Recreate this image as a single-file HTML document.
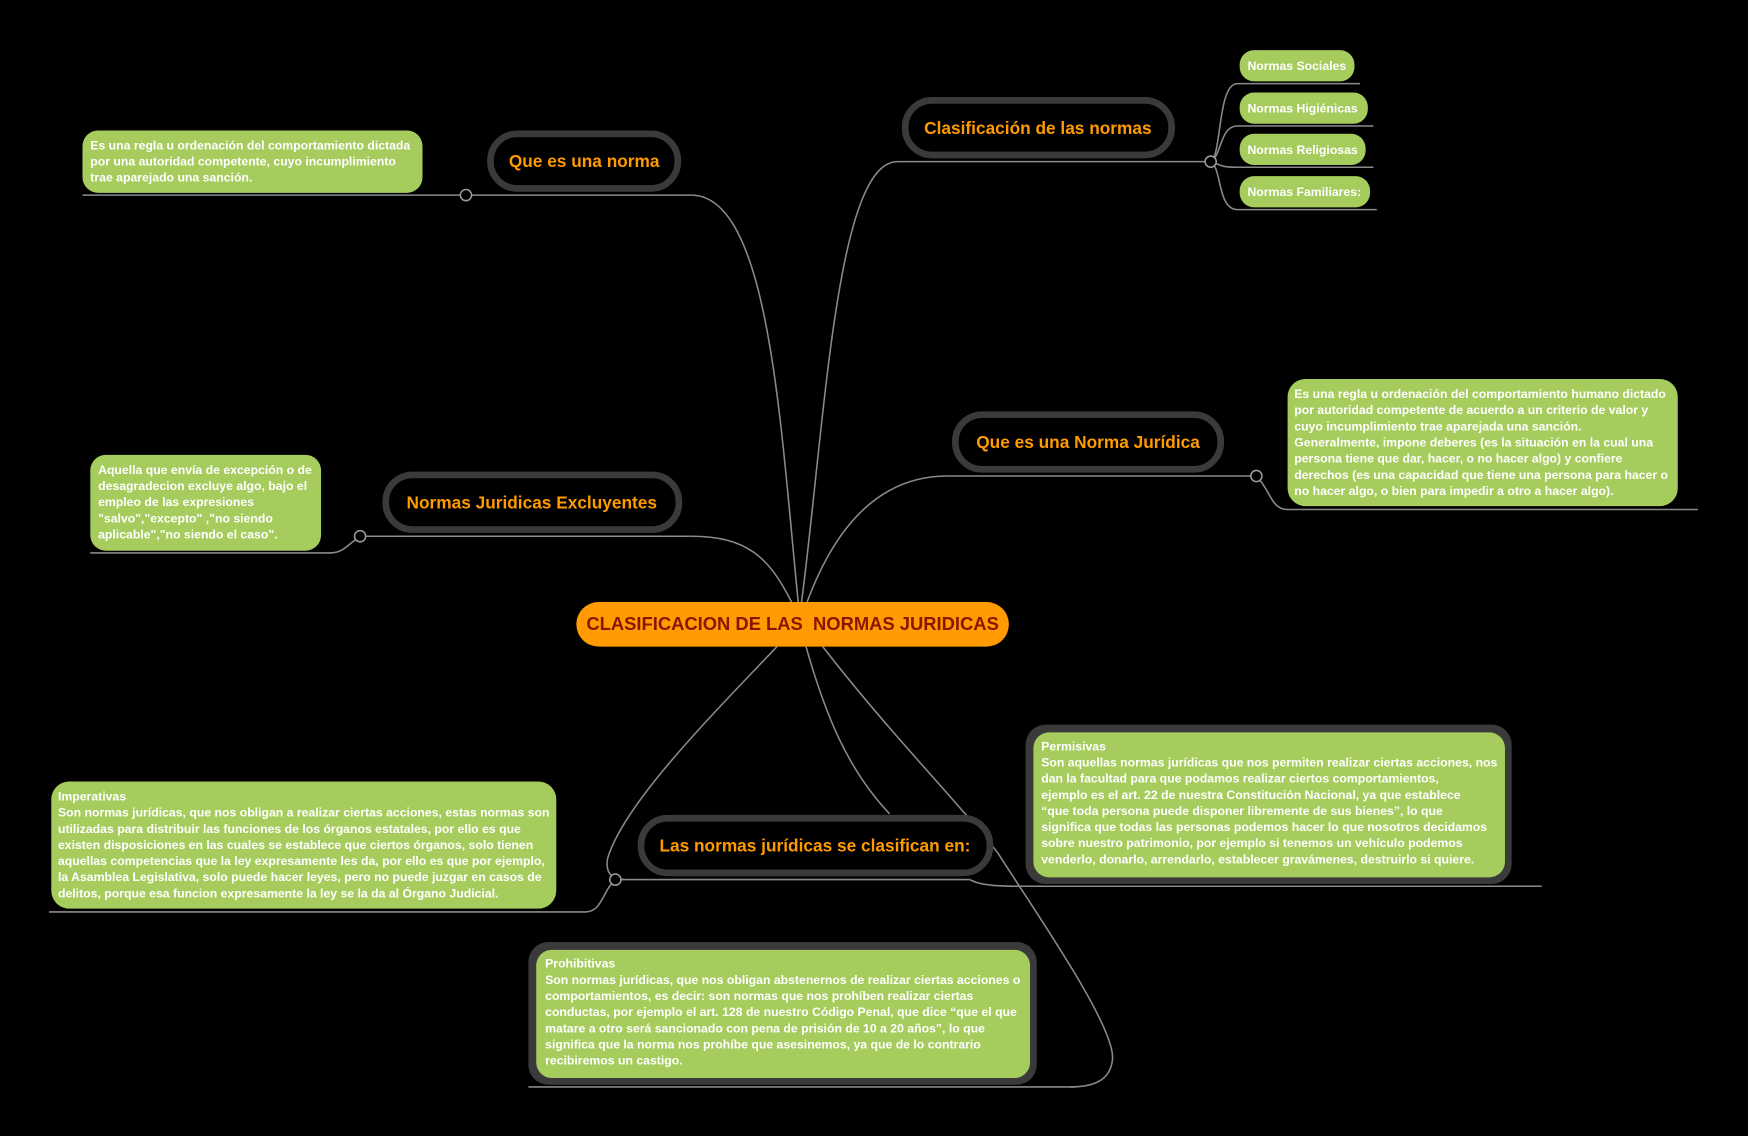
<!DOCTYPE html>
<html><head><meta charset="utf-8"><style>
html,body{margin:0;padding:0;background:#000;}
svg{display:block}
.t{font-family:"Liberation Sans",sans-serif;font-weight:bold;fill:#ff9a00;font-size:15.5px}
.l{font-family:"Liberation Sans",sans-serif;font-weight:bold;fill:#fff;font-size:11px}
.ln{fill:none;stroke:#8a8a8a;stroke-width:1.4}
.u{fill:none;stroke:#8a8a8a;stroke-width:1.4}
.g{fill:#a6cc5e}
.tb{fill:#000;stroke:#3a3a3a;stroke-width:6}
.c{fill:#000;stroke:#999;stroke-width:1.4}
</style></head><body>
<svg width="1748" height="1136" viewBox="0 0 1568 1019" xmlns="http://www.w3.org/2000/svg">
<rect width="1568" height="1019" fill="#000"/>
<path class="ln" d="M716 540 C700 380 690 175 620 175"/>
<path class="ln" d="M719 540 C740 380 750 145 805 145"/>
<path class="ln" d="M724 540 C750 470 790 427 850 427"/>
<path class="ln" d="M710 540 C690 500 670 481 620 481"/>
<path class="ln" d="M697 580 C640 640 560 720 545 770 C543 782 548 789 560 789"/>
<path class="ln" d="M723 580 C740 640 760 690 798 730"/>
<path class="ln" d="M738 580 C800 660 860 720 895 765 C930 820 1000 920 998 950 C996 970 980 975 960 975"/>
<path class="u" d="M74 175 H418 M418 175 H620"/>
<path class="u" d="M805 145 H1086"/>
<path class="u" d="M850 427 H1127 C1140 440 1140 457 1155 457 H1523"/>
<path class="u" d="M323 481 H620 M323 481 C310 490 308 496 295 496 H81"/>
<path class="u" d="M552 789 H870 M552 789 C540 800 540 818 525 818 H44"/>
<path class="u" d="M870 789 C880 795 900 795 920 795 H1383"/>
<path class="u" d="M474 975 H965"/>
<path class="u" d="M1086 145 C1096 140 1092 75 1110 75 H1220"/>
<path class="u" d="M1086 145 C1096 140 1094 113 1110 113 H1232"/>
<path class="u" d="M1086 145 C1096 148 1094 150 1110 150 H1232"/>
<path class="u" d="M1086 145 C1096 150 1092 188 1110 188 H1235"/>
<circle class="c" cx="418" cy="175" r="5"/>
<circle class="c" cx="1086" cy="145" r="5"/>
<circle class="c" cx="1127" cy="427" r="5"/>
<circle class="c" cx="323" cy="481" r="5"/>
<circle class="c" cx="552" cy="789" r="5"/>
<rect x="517" y="540" width="388" height="40" rx="20" fill="#ff9a00"/>
<text x="711" y="565" text-anchor="middle" font-family="Liberation Sans,sans-serif" font-weight="bold" font-size="16.5" fill="#8b1500" xml:space="preserve">CLASIFICACION DE LAS  NORMAS JURIDICAS</text>
<rect class="tb" x="440" y="120" width="168" height="49" rx="24"/>
<text class="t" x="524" y="150" text-anchor="middle">Que es una norma</text>
<rect class="tb" x="812" y="90" width="239" height="49" rx="24"/>
<text class="t" x="931" y="120" text-anchor="middle">Clasificación de las normas</text>
<rect class="tb" x="857" y="372" width="238" height="49" rx="24"/>
<text class="t" x="976" y="402" text-anchor="middle">Que es una Norma Jurídica</text>
<rect class="tb" x="346" y="426" width="263" height="49" rx="24"/>
<text class="t" x="477" y="456" text-anchor="middle">Normas Juridicas Excluyentes</text>
<rect class="tb" x="575" y="734" width="313" height="49" rx="24"/>
<text class="t" x="731" y="764" text-anchor="middle">Las normas jurídicas se clasifican en:</text>
<rect class="g" x="74" y="117" width="305" height="56" rx="14"/>
<text class="l"><tspan x="81" y="134">Es una regla u ordenación del comportamiento dictada</tspan><tspan x="81" y="148.5">por una autoridad competente, cuyo incumplimiento</tspan><tspan x="81" y="163">trae aparejado una sanción.</tspan></text>
<rect class="g" x="1112" y="45" width="103" height="28" rx="13"/>
<text class="l" x="1119" y="63">Normas Sociales</text>
<rect class="g" x="1112" y="83" width="115" height="28" rx="13"/>
<text class="l" x="1119" y="101">Normas Higiénicas</text>
<rect class="g" x="1112" y="120" width="113" height="28" rx="13"/>
<text class="l" x="1119" y="138">Normas Religiosas</text>
<rect class="g" x="1112" y="158" width="117" height="28" rx="13"/>
<text class="l" x="1119" y="176">Normas Familiares:</text>
<rect class="g" x="1155" y="340" width="350" height="114" rx="16"/>
<text class="l"><tspan x="1161" y="357">Es una regla u ordenación del comportamiento humano dictado</tspan><tspan x="1161" y="371.5">por autoridad  competente de acuerdo a un criterio de valor y</tspan><tspan x="1161" y="386">cuyo incumplimiento trae aparejada una sanción.</tspan><tspan x="1161" y="400.5">Generalmente, impone deberes (es la situación en la cual una</tspan><tspan x="1161" y="415">persona tiene que dar, hacer, o no hacer algo) y confiere</tspan><tspan x="1161" y="429.5">derechos (es una capacidad que tiene una persona para hacer o</tspan><tspan x="1161" y="444">no hacer algo, o bien para impedir a otro a hacer algo).</tspan></text>
<rect class="g" x="81" y="408" width="207" height="86" rx="14"/>
<text class="l"><tspan x="88" y="425">Aquella que envía de excepción o de</tspan><tspan x="88" y="439.5">desagradecion  excluye algo, bajo el</tspan><tspan x="88" y="454">empleo de las expresiones</tspan><tspan x="88" y="468.5">"salvo","excepto" ,"no siendo</tspan><tspan x="88" y="483">aplicable","no siendo el caso".</tspan></text>
<rect class="g" x="46" y="701" width="453" height="114" rx="16"/>
<text class="l"><tspan x="52" y="718">Imperativas</tspan><tspan x="52" y="732.5">Son normas jurídicas, que nos obligan a realizar ciertas acciones, estas normas son</tspan><tspan x="52" y="747">utilizadas para distribuir las funciones de los órganos estatales, por ello es que</tspan><tspan x="52" y="761.5">existen disposiciones en las cuales se establece que ciertos órganos, solo tienen</tspan><tspan x="52" y="776">aquellas competencias que la ley expresamente les da, por ello es que por ejemplo,</tspan><tspan x="52" y="790.5">la Asamblea Legislativa, solo puede hacer leyes, pero no puede juzgar en casos de</tspan><tspan x="52" y="805">delitos, porque esa funcion expresamente la ley se la da al Órgano Judicial.</tspan></text>
<rect x="920" y="650" width="436" height="143" rx="18" fill="#3a3a3a"/>
<rect class="g" x="927" y="657" width="423" height="130" rx="14"/>
<text class="l"><tspan x="934" y="673">Permisivas</tspan><tspan x="934" y="687.5">Son aquellas normas jurídicas que nos permiten realizar ciertas acciones, nos</tspan><tspan x="934" y="702">dan la facultad para que podamos realizar ciertos comportamientos,</tspan><tspan x="934" y="716.5">ejemplo es el art. 22 de nuestra Constitución Nacional, ya que establece</tspan><tspan x="934" y="731">“que toda persona puede disponer libremente de sus bienes”, lo que</tspan><tspan x="934" y="745.5">significa que todas las personas podemos hacer lo que nosotros decidamos</tspan><tspan x="934" y="760">sobre nuestro patrimonio, por ejemplo si tenemos un vehículo podemos</tspan><tspan x="934" y="774.5">venderlo, donarlo, arrendarlo, establecer gravámenes, destruirlo si quiere.</tspan></text>
<rect x="474" y="845" width="456" height="128" rx="18" fill="#3a3a3a"/>
<rect class="g" x="481" y="852" width="443" height="115" rx="14"/>
<text class="l"><tspan x="489" y="868">Prohibitivas</tspan><tspan x="489" y="882.5">Son normas jurídicas, que nos obligan abstenernos de realizar ciertas acciones o</tspan><tspan x="489" y="897">comportamientos, es decir: son normas que nos prohíben realizar ciertas</tspan><tspan x="489" y="911.5">conductas, por ejemplo el art. 128 de nuestro Código Penal, que dice “que el que</tspan><tspan x="489" y="926">matare a otro será sancionado con pena de prisión de 10 a 20 años”, lo que</tspan><tspan x="489" y="940.5">significa que la norma nos prohíbe que asesinemos, ya que de lo contrario</tspan><tspan x="489" y="955">recibiremos un castigo.</tspan></text>
</svg>
</body></html>
